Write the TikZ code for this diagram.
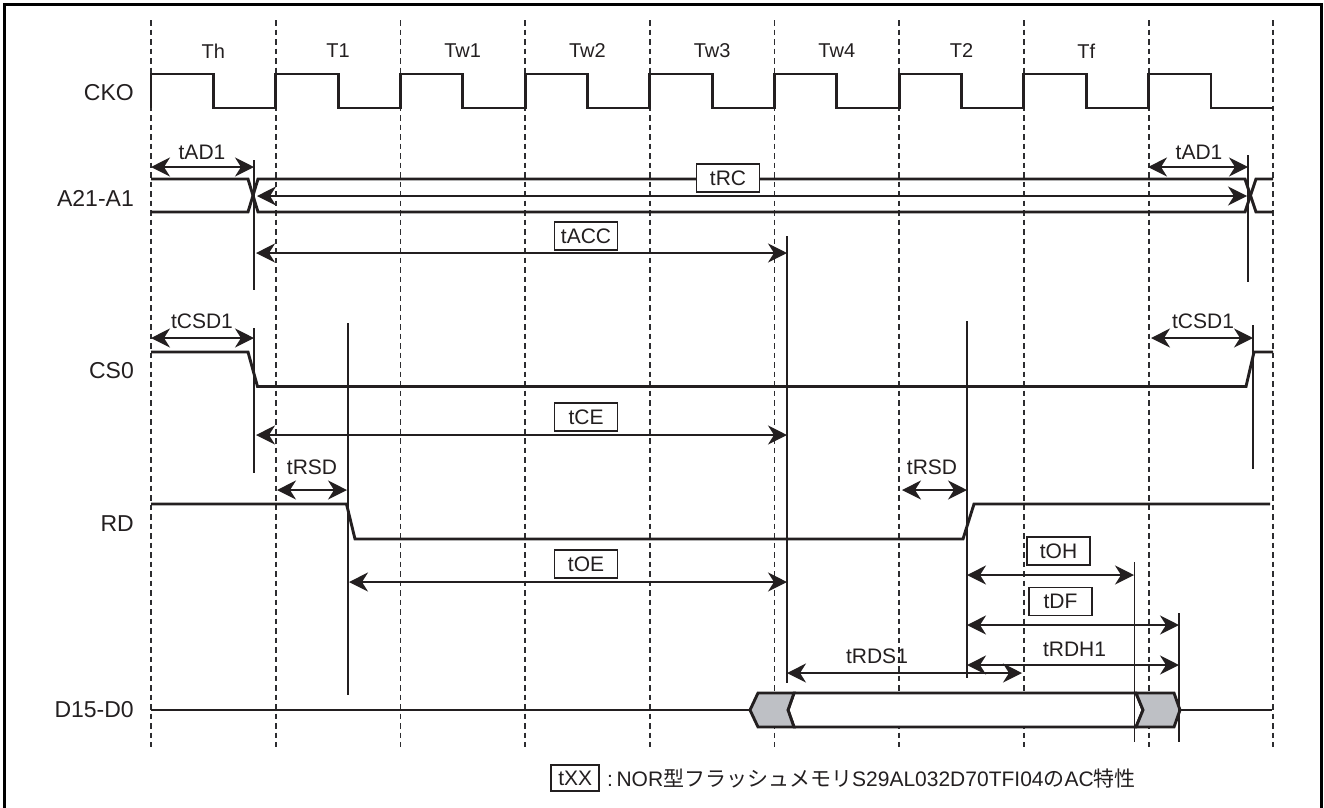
\documentclass[tikz,border=0pt]{standalone}
\usepackage{fontspec}
\setmainfont{Liberation Sans}
\newfontfamily\jpfont{Noto Sans CJK JP}
\usetikzlibrary{arrows.meta, calc}
\definecolor{sigcol}{RGB}{35,31,32}
\definecolor{gridcol}{RGB}{45,45,48}
\definecolor{busfill}{RGB}{190,192,197}

\begin{document}
\begin{tikzpicture}[x=1pt, y=-1pt,
    sig/.style={line width=2.9pt, draw=sigcol},
    gridline/.style={line width=1.8pt, dash pattern=on 5.5pt off 4pt, draw=gridcol},
    tline/.style={line width=1.6pt, draw=sigcol},
    dim/.style={line width=1.5pt, draw=sigcol,
        {Stealth[length=19pt,width=19pt,inset=6pt]}-{Stealth[length=19pt,width=19pt,inset=6pt]}},
    plabel/.style={font=\fontsize{20}{22}\selectfont, text=sigcol, inner sep=0pt},
    signame/.style={font=\fontsize{23}{26}\selectfont, text=sigcol, anchor=east, inner sep=0pt},
    tlabel/.style={font=\fontsize{21}{24}\selectfont, text=sigcol, inner sep=0pt},
    tbox/.style={draw=sigcol, line width=1.5pt, fill=white, text=sigcol,
        font=\fontsize{21}{24}\selectfont, minimum width=63pt, minimum height=28pt, inner sep=0pt}]
    \useasboundingbox (0,0) rectangle (1324,807);
    \draw[line width=3pt, draw=black] (4,810) -- (4,4.5) -- (1321,4.5) -- (1321,810);

    % clock grid
    \foreach \i in {0,...,9}
        \draw[gridline] ({151+124.7*\i},20) -- ({151+124.7*\i},747);
    \foreach \t [count=\i from 0] in {Th,T1,Tw1,Tw2,Tw3,Tw4,T2,Tf}
        \node[plabel] (p\i) at ({213.3+124.7*\i},51) {\t};

    % signal names
    \node[signame] (cko) at (134,93) {CKO};
    \node[signame] (addr) at (134,198) {A21-A1};
    \node[signame] (cs) at (134,371) {CS0};
    \node[signame] (rd) at (134,524) {RD};
    \node[signame] (data) at (134,710) {D15-D0};

    % waveforms
    \draw[sig] (151,108) \foreach \i in {0,...,8} { -- ++(0,-34) -- ++(62.35,0) -- ++(0,34) -- ++(62.35,0) };
    \draw[sig] (151,179) -- (248,179) -- (258,212) -- (1245,212) -- (1256,179) -- (1273,179);
    \draw[sig] (151,212) -- (248,212) -- (258,179) -- (1245,179) -- (1256,212) -- (1273,212);
    \draw[sig] (151,352) -- (248,352) -- (257.5,386.5) -- (1246,386.5) -- (1254,352) -- (1273,352);
    \draw[sig] (151,504) -- (346.5,504) -- (355,539) -- (963,539) -- (974,504) -- (1270,504);
    \draw[sig] (151,710) -- (750,710);
    \filldraw[sig, fill=white] (788,710) -- (794,693) -- (1136,693) -- (1143,710) -- (1136,727) -- (794,727) -- cycle;
    \filldraw[sig, fill=busfill] (750,710) -- (758,693) -- (794,693) -- (788,710) -- (794,727) -- (758,727) -- cycle;
    \filldraw[sig, fill=busfill] (1136,693) -- (1174,693) -- (1180,710) -- (1174,727) -- (1136,727) -- (1143,710) -- cycle;
    \draw[sig] (1180,710) -- (1272,710);

    % timing marks
    \draw[tline] (254,160) -- (254,290);
    \draw[tline] (1248,155) -- (1248,282);
    \draw[tline] (787,236) -- (787,683);
    \draw[tline] (254,328) -- (254,473);
    \draw[tline] (1253,325) -- (1253,469);
    \draw[tline] (348,323) -- (348,695);
    \draw[tline] (967,321) -- (967,678);
    \draw[tline] (1134.5,562) -- (1134.5,742);
    \draw[tline] (1179,613) -- (1179,742);

    % timing arrows
    \draw[dim] (151,167) -- (254,167);
    \node[tlabel] (tad1a) at (202,152) {tAD1};
    \draw[dim] (1148,167) -- (1248,167);
    \node[tlabel] (tad1b) at (1199,152) {tAD1};
    \draw[dim] (257,196) -- (1247,196);
    \node[tbox] (trc) at (728,178) {tRC};
    \draw[dim] (256,253) -- (787,253);
    \node[tbox] (tacc) at (586,236) {tACC};
    \draw[dim] (151,338) -- (254,338);
    \node[tlabel] (tcsd1a) at (202,321) {tCSD1};
    \draw[dim] (1151,338) -- (1253,338);
    \node[tlabel] (tcsd1b) at (1203,321) {tCSD1};
    \draw[dim] (256,435) -- (787,435);
    \node[tbox] (tce) at (586,417) {tCE};
    \draw[dim] (277,490) -- (347,490);
    \node[tlabel] (trsda) at (312,467) {tRSD};
    \draw[dim] (902,490) -- (967,490);
    \node[tlabel] (trsdb) at (932,467) {tRSD};
    \draw[dim] (349,582) -- (787,582);
    \node[tbox] (toe) at (586,564) {tOE};
    \draw[dim] (967,575) -- (1134,575);
    \node[tbox] (toh) at (1058.5,551) {tOH};
    \draw[dim] (967,625) -- (1179,625);
    \node[tbox] (tdf) at (1060.5,601.5) {tDF};
    \draw[dim] (967,665) -- (1179,665);
    \node[tlabel] (trdh1) at (1074.5,649) {tRDH1};
    \draw[dim] (787,673) -- (1022,673);
    \node[tlabel] (trds1) at (877,656) {tRDS1};

    % legend
    \node[anchor=east, inner sep=0pt, text=sigcol, font=\fontsize{21}{24}\selectfont] (legend) at (1136,778)
        {:\,NOR{\jpfont 型フラッシュメモリ}S29AL032D70TFI04{\jpfont の}AC{\jpfont 特性}};
    \node[tbox, anchor=east, minimum width=48pt, minimum height=26pt] (txx) at ([xshift=-7pt]legend.west) {tXX};
\end{tikzpicture}
\end{document}
